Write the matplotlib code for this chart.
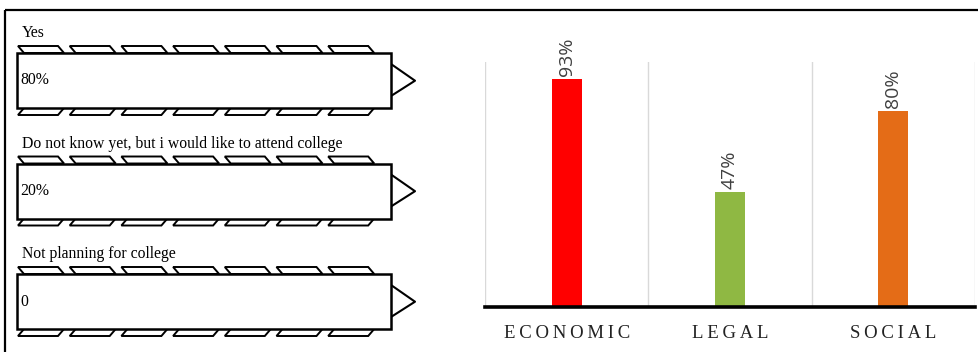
import matplotlib.pyplot as plt
from matplotlib.patches import Rectangle, Polygon

# left panel: college plans
plans = ['Yes', 'Do not know yet, but i would like to attend college', 'Not planning for college']
plan_values = ['80%', '20%', '0']

# right panel: areas
areas = ['ECONOMIC', 'LEGAL', 'SOCIAL']
area_pct = [93, 47, 80]
area_colors = ['#ff0000', '#8fb843', '#e46c17']

fig = plt.figure(figsize=(9.79, 3.52), dpi=100)

# background axes in pixel units for the diagram part
bg = fig.add_axes([0, 0, 1, 1])
bg.set_xlim(0, 979)
bg.set_ylim(352, 0)
bg.axis('off')

# outer frame (cropped at right and bottom)
bg.plot([5, 979], [10, 10], color='black', lw=1.6, solid_capstyle='butt')
bg.plot([5, 5], [10, 352], color='black', lw=1.6, solid_capstyle='butt')

serif = ['Liberation Serif', 'DejaVu Serif']
x0, x1 = 17, 391
box_h = 55
tw, th, sl, pitch = 40, 7, 6, 51.7

for i, (lab, val) in enumerate(zip(plans, plan_values)):
    top = 53 + i * 110.5
    bot = top + box_h
    bg.text(22, top - 20, lab, family=serif, fontsize=11.3, va='center', ha='left')
    # treads above and below the box
    for k in range(7):
        xs = x0 + 1 + k * pitch
        bg.add_patch(Polygon([(xs, top - th), (xs + tw, top - th), (xs + tw + sl, top), (xs + sl, top)],
                             closed=True, fill=False, ec='black', lw=1.4))
        bg.add_patch(Polygon([(xs + sl, bot), (xs + tw + sl, bot), (xs + tw, bot + th), (xs, bot + th)],
                             closed=True, fill=False, ec='black', lw=1.4))
    bg.add_patch(Rectangle((x0, top), x1 - x0, box_h, fc='white', ec='black', lw=1.8, zorder=3))
    bg.plot([x1, x1 + 24, x1], [top + 11, top + 27.7, top + 43], color='black', lw=1.5)
    bg.text(20, top + box_h / 2, val, family=serif, fontsize=11.3, va='center', ha='left', zorder=4)

# bar chart
ax = fig.add_axes([485 / 979, 45 / 352, 490 / 979, 245 / 352])
ax.patch.set_alpha(0)
pos = range(len(areas))
ax.bar(pos, area_pct, width=0.184, color=area_colors, zorder=3)
ax.set_xlim(-0.5, 2.5)
ax.set_ylim(0, 100)
for g in [-0.5, 0.5, 1.5, 2.5]:
    ax.axvline(g, color='#d9d9d9', lw=1, zorder=1)
ax.axhline(0, color='black', lw=2.6, zorder=4, clip_on=False)
for s in ax.spines.values():
    s.set_visible(False)
ax.set_yticks([])
ax.set_xticks(list(pos))
ax.set_xticklabels(['\u2009'.join(a) for a in areas], family=serif, fontsize=13.5,
                   color='#222222')
ax.tick_params(axis='x', length=0, pad=13)

for i, v in enumerate(area_pct):
    ax.annotate(f'{v}%', (i, v), xytext=(0, 2), textcoords='offset points',
                rotation=90, ha='center', va='bottom', family='Open Sans',
                fontsize=14, color='#404040')

fig.savefig('out.png', dpi=100)
